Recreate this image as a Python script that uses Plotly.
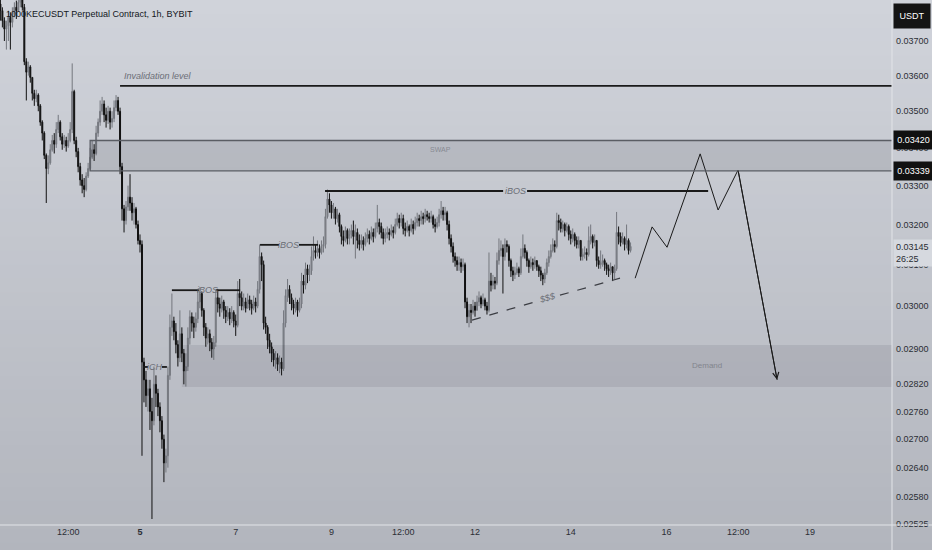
import numpy as np
import pandas as pd
import plotly.graph_objects as go

# 1000KECUSDT perpetual, 1h candles (prices in 1e-5 USDT)
first_bar = "2023-06-02 02:00"
first_open = 3810
closes = [
    3790, 3760, 3735, 3745, 3770, 3755, 3780, 3800, 3790, 3815,
    3830, 3800, 3640, 3610, 3625, 3595, 3550, 3535, 3545, 3515,
    3470, 3440, 3380, 3345, 3360, 3395, 3420, 3410, 3450, 3470,
    3430, 3410, 3420, 3405, 3420, 3450, 3555, 3420, 3390, 3350,
    3315, 3300, 3290, 3325, 3345, 3375, 3395, 3385, 3440, 3470,
    3500, 3520, 3490, 3475, 3500, 3470, 3480, 3510, 3530, 3500,
    3350, 3240, 3210, 3245, 3270, 3255, 3230, 3240, 3200, 3160,
    3150, 2870, 2830, 2795, 2810, 2760, 2740, 2820, 2800, 2770,
    2740, 2700, 2650, 2665, 2840, 2950, 2965, 2940, 2910, 2880,
    2935, 2890, 2850, 2860, 2925, 2975, 2960, 2950, 2970, 3010,
    3030, 2990, 2950, 2925, 2935, 2915, 2900, 2915, 3020, 3005,
    2995, 3010, 2990, 2975, 2985, 2970, 2985, 2965, 2955, 3030,
    3020, 3000, 3010, 2995, 3015, 3005, 2995, 3010, 3000, 3040,
    3120, 3100, 2960, 2950, 2920, 2905, 2890, 2875, 2880, 2865,
    2870, 2855, 2960, 3025, 3040, 3020, 3005, 2995, 3010, 2990,
    3005, 3060, 3050, 3090, 3075, 3085, 3120, 3135, 3130, 3140,
    3130, 3145, 3150, 3220, 3265, 3250, 3230, 3240, 3215, 3225,
    3195, 3170, 3160, 3185, 3165, 3175, 3185, 3170, 3180, 3160,
    3150, 3160, 3150, 3165, 3175, 3165, 3180, 3170, 3190, 3205,
    3195, 3180, 3165, 3175, 3180, 3175, 3185, 3180, 3200, 3215,
    3205, 3215, 3190, 3185, 3195, 3185, 3200, 3190, 3205, 3215,
    3210, 3220, 3215, 3225, 3220, 3215, 3220, 3200, 3195, 3205,
    3225, 3235, 3225, 3230, 3200, 3165, 3145, 3120, 3110, 3100,
    3105, 3095, 3100, 3010, 2975, 2990, 2985, 3000, 2990, 3010,
    3020, 3005, 3015, 3000, 2990, 3060, 3050, 3060, 3055, 3110,
    3135, 3140, 3120, 3150, 3145, 3110, 3085, 3075, 3080, 3090,
    3080, 3120, 3140, 3130, 3110, 3095, 3105, 3100, 3110, 3095,
    3085, 3075, 3065, 3080, 3105, 3120, 3135, 3150, 3145, 3210,
    3205, 3190, 3200, 3185, 3195, 3175, 3165, 3175, 3160, 3150,
    3160, 3120, 3125, 3130, 3125, 3160, 3170, 3155, 3160, 3110,
    3100, 3105, 3110, 3100, 3090, 3085, 3095, 3080, 3090, 3180,
    3170, 3155, 3165, 3150, 3160, 3135, 3145,
]
highs = [
    3840, 3800, 3770, 3760, 3790, 3785, 3800, 3815, 3820, 3840,
    3850, 3850, 3810, 3650, 3640, 3630, 3590, 3560, 3560, 3550,
    3520, 3475, 3445, 3385, 3380, 3410, 3435, 3440, 3470, 3490,
    3475, 3440, 3435, 3430, 3440, 3470, 3635, 3560, 3430, 3400,
    3360, 3330, 3320, 3335, 3360, 3400, 3420, 3410, 3460, 3480,
    3530, 3540, 3530, 3510, 3515, 3510, 3500, 3530, 3545, 3540,
    3510, 3360, 3250, 3260, 3300, 3330, 3270, 3255, 3245, 3210,
    3175, 3160, 2880, 2850, 2830, 2830, 2790, 2860, 2840, 2810,
    2780, 2750, 2710, 2680, 2860, 2980, 3030, 2975, 2960, 2920,
    2990, 2950, 2900, 2890, 2950, 2990, 2985, 2975, 2985, 3040,
    3045, 3035, 2995, 2960, 2950, 2945, 2925, 2930, 3040, 3040,
    3020, 3025, 3015, 3000, 3000, 2995, 3000, 2990, 2980, 3060,
    3065, 3035, 3030, 3020, 3030, 3025, 3015, 3025, 3020, 3060,
    3150, 3130, 3110, 2975, 2955, 2935, 2915, 2900, 2895, 2890,
    2885, 2880, 2990, 3040, 3065, 3050, 3030, 3015, 3020, 3015,
    3020, 3080, 3075, 3105, 3100, 3100, 3145, 3170, 3150, 3160,
    3150, 3160, 3170, 3240, 3290, 3280, 3260, 3255, 3245, 3240,
    3230, 3200, 3185, 3195, 3190, 3190, 3200, 3210, 3200, 3190,
    3175, 3175, 3170, 3180, 3190, 3185, 3195, 3190, 3205, 3250,
    3215, 3205, 3190, 3190, 3195, 3190, 3200, 3195, 3215, 3230,
    3225, 3230, 3225, 3205, 3210, 3200, 3215, 3210, 3220, 3230,
    3225, 3235, 3230, 3240, 3235, 3230, 3235, 3225, 3215, 3220,
    3240, 3260, 3245, 3245, 3235, 3210, 3175, 3155, 3130, 3120,
    3120, 3115, 3115, 3105, 3020, 3005, 3005, 3015, 3010, 3025,
    3035, 3025, 3030, 3020, 3010, 3130, 3080, 3075, 3070, 3130,
    3165, 3160, 3150, 3165, 3160, 3150, 3115, 3095, 3095, 3105,
    3095, 3140, 3175, 3150, 3135, 3115, 3120, 3115, 3120, 3110,
    3100, 3095, 3080, 3090, 3115, 3135, 3150, 3165, 3160, 3230,
    3225, 3215, 3210, 3205, 3205, 3200, 3185, 3190, 3180, 3170,
    3170, 3160, 3140, 3145, 3140, 3195, 3200, 3175, 3175, 3160,
    3120, 3135, 3125, 3115, 3105, 3100, 3105, 3095, 3100, 3232,
    3195, 3180, 3180, 3170, 3200, 3165, 3155,
]
lows = [
    3760, 3740, 3700, 3675, 3700, 3675, 3740, 3770, 3765, 3790,
    3800, 3790, 3630, 3530, 3600, 3580, 3530, 3515, 3525, 3500,
    3460, 3420, 3370, 3255, 3330, 3355, 3390, 3385, 3400, 3440,
    3420, 3395, 3400, 3390, 3400, 3415, 3440, 3410, 3375, 3335,
    3300, 3280, 3270, 3285, 3320, 3340, 3370, 3365, 3380, 3430,
    3460, 3490, 3470, 3455, 3465, 3450, 3455, 3470, 3500, 3490,
    3330, 3210, 3180, 3200, 3235, 3235, 3210, 3200, 3190, 3150,
    3130, 2665, 2780, 2770, 2760, 2720, 2535, 2730, 2770, 2750,
    2715, 2680, 2610, 2630, 2640, 2830, 2930, 2920, 2890, 2860,
    2870, 2870, 2820, 2815, 2850, 2910, 2940, 2925, 2940, 2960,
    2995, 2975, 2930, 2905, 2910, 2895, 2880, 2875, 2905, 2985,
    2975, 2985, 2970, 2960, 2965, 2955, 2960, 2950, 2930, 2950,
    3000, 2990, 2990, 2985, 2995, 2990, 2980, 2990, 2985, 2995,
    3030, 3060, 2945, 2935, 2900, 2890, 2870, 2860, 2855, 2850,
    2845, 2840, 2850, 2950, 3010, 3005, 2990, 2980, 2985, 2975,
    2985, 2995, 3030, 3040, 3055, 3060, 3075, 3110, 3115, 3120,
    3115, 3125, 3130, 3140, 3215, 3230, 3215, 3215, 3200, 3205,
    3180, 3150, 3145, 3155, 3150, 3150, 3165, 3150, 3115, 3140,
    3135, 3140, 3135, 3145, 3155, 3150, 3160, 3155, 3165, 3180,
    3175, 3165, 3150, 3155, 3165, 3160, 3170, 3165, 3175, 3195,
    3190, 3195, 3175, 3170, 3180, 3170, 3180, 3175, 3185, 3195,
    3195, 3200, 3200, 3205, 3210, 3205, 3205, 3190, 3180, 3190,
    3195, 3215, 3210, 3210, 3185, 3150, 3130, 3105, 3095, 3085,
    3085, 3080, 3085, 2995, 2960, 2950, 2960, 2980, 2975, 2990,
    3000, 2995, 3000, 2990, 2980, 2985, 3035, 3040, 3040, 3050,
    3100, 3120, 3030, 3110, 3130, 3095, 3070, 3060, 3065, 3075,
    3070, 3075, 3115, 3115, 3095, 3080, 3090, 3085, 3090, 3085,
    3070, 3060, 3050, 3055, 3075, 3095, 3115, 3130, 3130, 3140,
    3185, 3180, 3180, 3170, 3180, 3160, 3150, 3155, 3145, 3140,
    3140, 3110, 3110, 3115, 3110, 3120, 3150, 3140, 3145, 3095,
    3090, 3090, 3095, 3085, 3075, 3070, 3075, 3060, 3065, 3085,
    3150, 3145, 3150, 3135, 3140, 3125, 3130,
]

# axis ticks
price_ticks = [0.037, 0.036, 0.035, 0.034, 0.033, 0.032, 0.031, 0.030,
               0.029, 0.0282, 0.0276, 0.027, 0.0264, 0.0258, 0.02525]
time_ticks = ["2023-06-03 12:00", "2023-06-05", "2023-06-07", "2023-06-09",
              "2023-06-10 12:00", "2023-06-12", "2023-06-14", "2023-06-16",
              "2023-06-17 12:00", "2023-06-19"]
time_labels = ["12:00", "<b>5</b>", "7", "9", "12:00", "12", "14", "16", "12:00", "19"]

# drawings (time, price)
invalidation = ("2023-06-04 14:00", 0.03571)
swap_zone = ("2023-06-03 23:00", 0.03339, 0.03420)
demand_zone = ("2023-06-05 21:00", 0.02814, 0.02909)
ibos_levels = [  # left start, gap start, label, gap end, right end, price
    ("2023-06-05 16:00", "2023-06-06 05:36", "2023-06-06 09:36", "2023-06-06 14:06", "2023-06-07 02:12", 0.03038),
    ("2023-06-07 12:12", "2023-06-07 21:42", "2023-06-08 02:42", "2023-06-08 07:42", "2023-06-08 17:18", 0.03149),
    ("2023-06-08 20:48", "2023-06-12 14:06", "2023-06-12 20:06", "2023-06-13 02:06", "2023-06-16 20:54", 0.03286),
]
ich_level = ("2023-06-05 01:30", "2023-06-05 04:00", "2023-06-05 07:30", "2023-06-05 11:00", "2023-06-05 13:30", 0.02859)
liquidity_line = [("2023-06-11 22:30", 0.02967), ("2023-06-13 06:06", 0.03010),
                  ("2023-06-13 18:36", 0.03026), ("2023-06-15 00:42", 0.03067)]
liquidity_label = ("2023-06-13 12:06", 0.03019)
projection_t = ["2023-06-15 08:18", "2023-06-15 16:48", "2023-06-16 00:18", "2023-06-16 16:54",
                "2023-06-17 01:54", "2023-06-17 11:54", "2023-06-18 07:30"]
projection_p = [0.03067, 0.03194, 0.03143, 0.03384, 0.03237, 0.03341, 0.02830]
last_price = 0.03145
countdown = "26:25"

# build OHLC
times = pd.date_range(first_bar, periods=len(closes), freq="h")
c = np.array(closes, dtype=float)
o = np.r_[first_open, c[:-1]]
h = np.maximum(np.array(highs, dtype=float), np.maximum(o, c))
l = np.minimum(np.array(lows, dtype=float), np.minimum(o, c))

fig = go.Figure()

# soft vertical gradient background (paper coords)
top_rgb = np.array([208, 211, 218])
bot_rgb = np.array([178, 181, 189])
n_bands = 40
for k in range(n_bands):
    f = k / (n_bands - 1)
    col = top_rgb * (1 - f) + bot_rgb * f
    y_hi = 1.0 - k * (1.06 / n_bands)
    fig.add_shape(type="rect", xref="paper", yref="paper", layer="below",
                  x0=-0.01, x1=1.06, y0=y_hi - 1.06 / n_bands - 0.002, y1=y_hi,
                  fillcolor="rgb(%d,%d,%d)" % tuple(col.round()), line_width=0)

fig.add_trace(go.Candlestick(
    x=times, open=o / 1e5, high=h / 1e5, low=l / 1e5, close=c / 1e5,
    increasing=dict(line=dict(color="#74777e", width=1), fillcolor="#8c8f96"),
    decreasing=dict(line=dict(color="#111111", width=1), fillcolor="#111111"),
    whiskerwidth=0, hoverinfo="skip", showlegend=False,
))

far_right = "2023-06-25"
dark = "#1a1a1a"
label_gray = "#6b6e76"

# zones
fig.add_shape(type="rect", x0=swap_zone[0], x1=far_right, y0=swap_zone[1], y1=swap_zone[2],
              fillcolor="rgba(30,32,40,0.10)", line=dict(color="#5a5d64", width=1.3))
fig.add_shape(type="rect", x0=demand_zone[0], x1=far_right, y0=demand_zone[1], y1=demand_zone[2],
              fillcolor="rgba(30,32,40,0.09)", line_width=0)
fig.add_shape(type="line", x0=invalidation[0], x1=far_right, y0=invalidation[1], y1=invalidation[1],
              line=dict(color=dark, width=1.6))

# iBOS / iCH lines with a gap for the label
for lvl in ibos_levels + [ich_level]:
    x_a, x_b, x_lab, x_c, x_d, p = lvl
    for xs, xe in [(x_a, x_b), (x_c, x_d)]:
        fig.add_shape(type="line", x0=xs, x1=xe, y0=p, y1=p, line=dict(color=dark, width=1.8))

# liquidity trendline (dashed)
for (t0, p0), (t1, p1) in [(liquidity_line[0], liquidity_line[1]), (liquidity_line[2], liquidity_line[3])]:
    fig.add_shape(type="line", x0=t0, x1=t1, y0=p0, y1=p1,
                  line=dict(color="#3c3e44", width=1.2, dash="dash"))

# projected path
fig.add_trace(go.Scatter(x=projection_t, y=projection_p, mode="lines",
                         line=dict(color=dark, width=1), hoverinfo="skip", showlegend=False))
fig.add_annotation(x=projection_t[-1], y=np.log10(projection_p[-1]),
                   ax=projection_t[-2], ay=np.log10(projection_p[-2]), axref="x", ayref="y",
                   showarrow=True, arrowhead=5, arrowsize=1.2, arrowwidth=1, arrowcolor=dark, text="")

FONT = "Liberation Sans, Arial, sans-serif"
lab_font = dict(family=FONT, size=9, color=label_gray)

def text_at(t, p, s, size=9, color=label_gray, anchor="center", angle=0):
    fig.add_annotation(x=t, y=np.log10(p), text=s, showarrow=False, xanchor=anchor,
                       yanchor="middle", textangle=angle,
                       font=dict(lab_font, size=size, color=color))

text_at("2023-06-04 15:00", 0.03599, "<i>Invalidation level</i>", size=9, anchor="left")
text_at("2023-06-11 06:30", 0.03397, "SWAP", size=7, color="#878a92")
text_at("2023-06-16 20:24", 0.02863, "Demand", size=8, color="#82858d")
for lvl in ibos_levels:
    text_at(lvl[2], lvl[5], "<i>iBOS</i>", size=9)
text_at(ich_level[2], ich_level[5], "<i>iCH</i>", size=9)
text_at(liquidity_label[0], liquidity_label[1], "<i>$$$</i>", size=9, angle=-16)

# title
fig.add_annotation(xref="paper", yref="paper", x=0, y=1, xanchor="left", yanchor="top",
                   xshift=4, yshift=-7, showarrow=False,
                   text="1000KECUSDT Perpetual Contract, 1h, BYBIT",
                   font=dict(family=FONT, size=9, color="#131722"))

# price-scale badges
badge_font = dict(family=FONT, size=9)
for p in swap_zone[1:]:
    fig.add_annotation(xref="paper", x=1, y=np.log10(p), xanchor="left", yanchor="middle",
                       xshift=1, showarrow=False, text="%.5f" % p, width=35, height=14,
                       bgcolor="#111111", borderpad=2, font=dict(badge_font, color="white"))
fig.add_annotation(xref="paper", x=1, y=np.log10(0.03128), xanchor="left", yanchor="middle",
                   xshift=1, showarrow=False, text="%.5f<br>%s" % (last_price, countdown),
                   width=35, align="left", bgcolor="#d6d9df", borderpad=2,
                   font=dict(badge_font, color="#2a2d33"))
fig.add_annotation(xref="paper", yref="paper", x=1, y=1, xanchor="left", yanchor="top",
                   xshift=1, yshift=-3, showarrow=False, text="USDT", width=30, height=18,
                   bgcolor="#141414", borderpad=3, font=dict(badge_font, color="white"))

# axis separators
sep = "#e2e4e8"
fig.add_shape(type="line", xref="paper", yref="paper", x0=0, x1=1.06, y0=0, y1=0,
              line=dict(color=sep, width=1))
fig.add_shape(type="line", xref="paper", yref="paper", x0=1, x1=1, y0=-0.06, y1=1,
              line=dict(color=sep, width=1))

axis_font = dict(family=FONT, size=9, color="#2b2e35")
fig.update_layout(
    width=932, height=550,
    margin=dict(l=0, r=40, t=0, b=25),
    paper_bgcolor="#b4b7bf",
    plot_bgcolor="rgba(0,0,0,0)",
    showlegend=False,
    hovermode=False,
    xaxis=dict(type="date", range=["2023-06-02 01:48", "2023-06-20 17:06"],
               tickvals=time_ticks, ticktext=time_labels, tickfont=axis_font,
               showgrid=False, zeroline=False, ticks="", rangeslider=dict(visible=False),
               fixedrange=True),
    yaxis=dict(type="log", side="right", range=[np.log10(0.02523), np.log10(0.03822)],
               tickvals=price_ticks, ticktext=["%.5f" % v for v in price_ticks],
               tickfont=axis_font, showgrid=False, zeroline=False, ticks="",
               ticklabelstandoff=3, fixedrange=True),
)

# page body has an 8px default margin; drop it so the chart fills the window
fig.write_html("out.html", config={"displayModeBar": False},
               post_script="document.body.style.margin='0px';")
